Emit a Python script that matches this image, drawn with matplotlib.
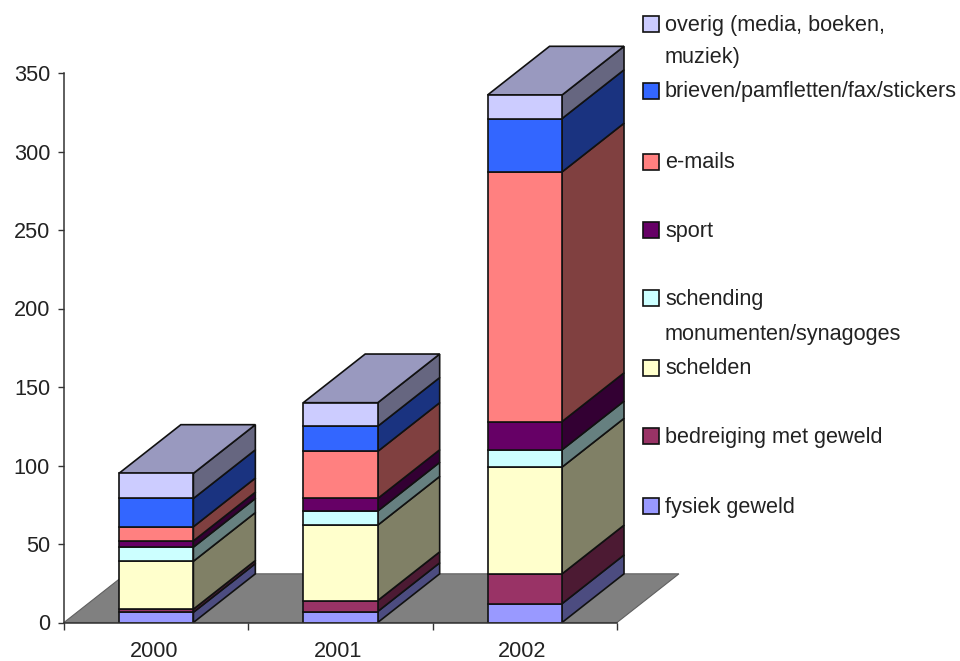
import matplotlib
matplotlib.use("Agg")
import matplotlib.pyplot as plt
from matplotlib.patches import Polygon, Rectangle
from matplotlib.transforms import ScaledTranslation

plt.rcParams['font.family'] = ['Liberation Sans', 'DejaVu Sans']

years = ["2000", "2001", "2002"]
y_ticks = [0, 50, 100, 150, 200, 250, 300, 350]

# stacked from the bottom up
fysiek = [6.5, 7, 12]
bedreiging = [2, 7, 19]
schelden = [30.5, 48, 68]
schending = [9, 9, 11]
sport = [4, 8, 18]
emails = [9, 30, 159]
brieven = [18, 16, 34]
overig = [16, 15, 15]

series = [fysiek, bedreiging, schelden, schending, sport, emails, brieven, overig]
front_colors = ['#9999FF', '#993366', '#FFFFCC', '#CCFFFF', '#660066', '#FF8080', '#3366FF', '#CCCCFF']
side_colors = ['#4C4C80', '#4C1A33', '#808066', '#668080', '#330033', '#804040', '#1A3380', '#666680']
top_color = '#9999BF'

legend_labels = ["fysiek geweld", "bedreiging met geweld", "schelden",
                 "schending", "sport", "e-mails",
                 "brieven/pamfletten/fax/stickers", "overig (media, boeken,"]
legend_y = [506, 436, 368, 298, 230, 162, 91, 24]

W, H = 960, 661
bar_width = 0.404
depth_x = 0.336  # depth of the fake 3D, in category units
depth_y = 31     # and in value units
edge = '#111111'
font_size = 15.6

fig = plt.figure(figsize=(W / 100, H / 100), dpi=100)
ax = fig.add_axes([64 / W, 1 - 622.5 / H, 553 / W, 549.5 / H])
ax.set_xlim(-0.5, 2.5)
ax.set_ylim(0, 350)

# floor
ax.add_patch(Polygon([(-0.5, 0), (2.5, 0), (2.5 + depth_x, depth_y), (-0.5 + depth_x, depth_y)],
                     closed=True, facecolor='#808080', edgecolor='#606060', linewidth=0.8,
                     clip_on=False, zorder=1))

for i in range(len(years)):
    left = i - bar_width / 2
    right = i + bar_width / 2
    bottom = 0
    for values, fc, sc in zip(series, front_colors, side_colors):
        top = bottom + values[i]
        ax.bar(i, values[i], bar_width, bottom=bottom, color=fc, edgecolor=edge, linewidth=1.2, zorder=3)
        ax.add_patch(Polygon([(right, bottom), (right + depth_x, bottom + depth_y),
                              (right + depth_x, top + depth_y), (right, top)],
                             closed=True, facecolor=sc, edgecolor=edge, linewidth=1.2,
                             clip_on=False, zorder=2))
        bottom = top
    ax.add_patch(Polygon([(left, bottom), (right, bottom),
                          (right + depth_x, bottom + depth_y), (left + depth_x, bottom + depth_y)],
                         closed=True, facecolor=top_color, edgecolor=edge, linewidth=1.2,
                         clip_on=False, zorder=2))

for s in ['top', 'right']:
    ax.spines[s].set_visible(False)
for s in ['left', 'bottom']:
    ax.spines[s].set_linewidth(1.1)
    ax.spines[s].set_color('#333333')
    ax.spines[s].set_zorder(4)

ax.set_yticks(y_ticks)
ax.set_xticks([-0.5, 0.5, 1.5, 2.5])
ax.set_xticklabels([])
ax.set_xticks([0, 1, 2], minor=True)
ax.set_xticklabels(years, minor=True)
ax.tick_params(axis='x', which='major', length=5, width=1, color='#333333')
ax.tick_params(axis='x', which='minor', length=0, pad=13, labelsize=font_size, labelcolor='#222222')
ax.tick_params(axis='y', length=4, width=1, color='#333333', pad=6, labelsize=font_size, labelcolor='#222222')

# year labels sit a little left of the bar centre in the original
shift = ScaledTranslation(-2.5 / 100, 0, fig.dpi_scale_trans)
for lab in ax.get_xticklabels(minor=True):
    lab.set_transform(lab.get_transform() + shift)

# legend drawn by hand, the spacing in the original is uneven because of wrapped labels
for label, y, fc in zip(legend_labels, legend_y, front_colors):
    fig.add_artist(Rectangle((643 / W, 1 - (y + 8) / H), 16 / W, 16 / H, transform=fig.transFigure,
                             facecolor=fc, edgecolor=edge, linewidth=1.2))
    fig.text(665 / W, 1 - (y + 1) / H, label, fontsize=font_size, color='#222222', va='center', ha='left')
fig.text(665 / W, 1 - 58 / H, "muziek)", fontsize=font_size, color='#222222', va='center', ha='left')
fig.text(665 / W, 1 - 334 / H, "monumenten/synagoges", fontsize=font_size, color='#222222', va='center', ha='left')

fig.savefig("out.png", dpi=100)
